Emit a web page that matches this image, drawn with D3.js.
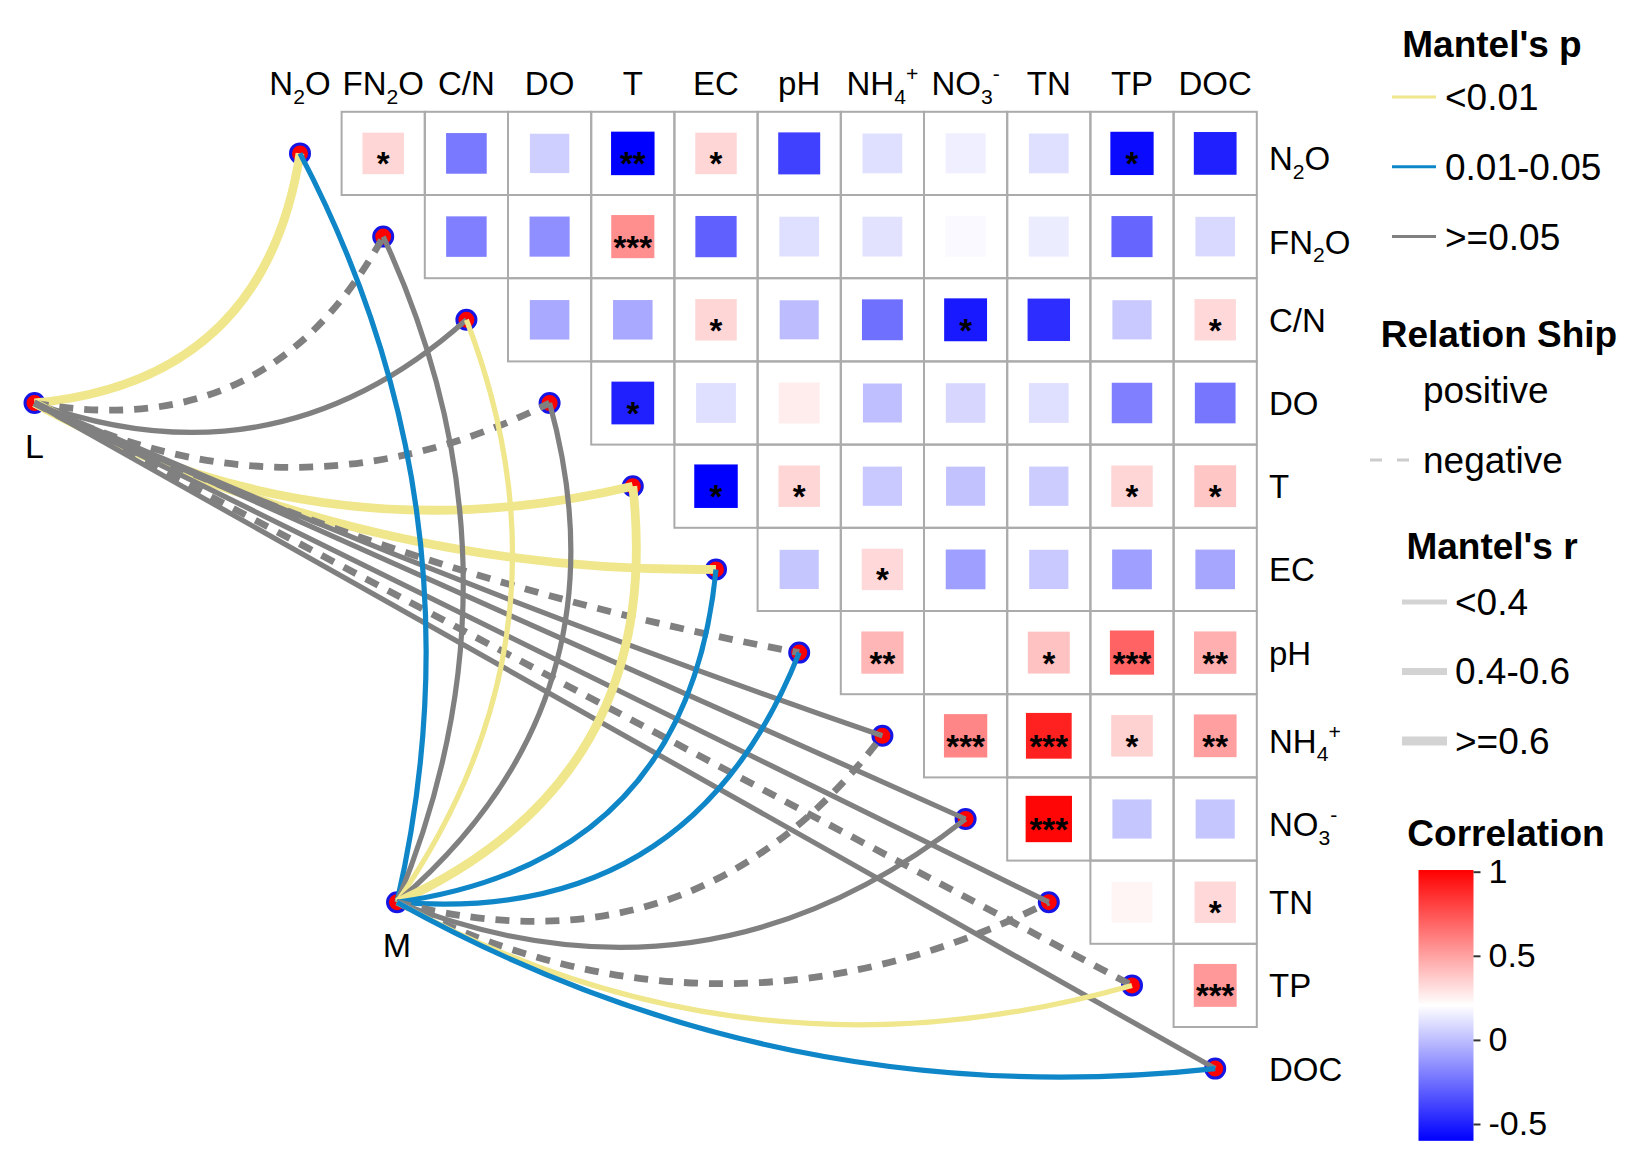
<!DOCTYPE html>
<html>
<head>
<meta charset="utf-8">
<script src="https://cdn.jsdelivr.net/npm/d3@7"></script>
<style>
  html, body { margin: 0; padding: 0; background: #fff; }
  svg { display: block; font-family: "Liberation Sans", Arial, sans-serif; }
</style>
</head>
<body>
<svg id="chart" width="1638" height="1164"></svg>
<script>
// variables of the correlation triangle (also the link targets)
const vars = ["N2O", "FN2O", "C/N", "DO", "T", "EC", "pH", "NH4+", "NO3-", "TN", "TP", "DOC"];

// upper triangle: row i holds the correlations with vars i+1 .. 11
const corrRows = [
  [0.33, -0.22, 0.05, -0.60, 0.33, -0.40, 0.10, 0.15, 0.10, -0.57, -0.50],
  [-0.20, -0.15, 0.55, -0.30, 0.10, 0.11, 0.18, 0.14, -0.28, 0.08],
  [-0.07, -0.07, 0.33, -0.01, -0.25, -0.52, -0.46, 0.03, 0.32],
  [-0.50, 0.10, 0.26, 0.00, 0.07, 0.10, -0.20, -0.23],
  [-0.60, 0.33, 0.03, 0.01, 0.04, 0.33, 0.38],
  [0.02, 0.32, -0.10, 0.03, -0.10, -0.08],
  [0.43, 0.20, 0.39, 0.69, 0.45],
  [0.58, 0.90, 0.34, 0.50],
  [0.98, 0.02, 0.02],
  [0.23, 0.32],
  [0.52]
];
const starRows = [
  ["*", "", "", "**", "*", "", "", "", "", "*", ""],
  ["", "", "***", "", "", "", "", "", "", ""],
  ["", "", "*", "", "", "*", "", "", "*"],
  ["*", "", "", "", "", "", "", ""],
  ["*", "*", "", "", "", "*", "*"],
  ["", "*", "", "", "", ""],
  ["**", "", "*", "***", "**"],
  ["***", "***", "*", "**"],
  ["***", "", ""],
  ["", "*"],
  ["***"]
];

// Mantel tests of the two groups against every variable (negative r = dashed)
const envNames = ["L", "M"];
const mantelR_L = [0.66, -0.45, 0.25, -0.42, 0.68, 0.65, -0.44, 0.22, 0.18, 0.20, -0.41, 0.24];
const mantelP_L = [0.001, 0.32, 0.21, 0.45, 0.002, 0.004, 0.38, 0.27, 0.30, 0.25, 0.40, 0.19];
const mantelR_M = [0.31, 0.22, 0.35, 0.20, 0.71, 0.33, 0.34, -0.43, 0.19, -0.47, 0.36, 0.32];
const mantelP_M = [0.02, 0.15, 0.008, 0.22, 0.001, 0.03, 0.04, 0.35, 0.28, 0.41, 0.006, 0.03];

const pLabels = ["<0.01", "0.01-0.05", ">=0.05"];
const rLabels = ["<0.4", "0.4-0.6", ">=0.6"];
const relLabels = ["positive", "negative"];
const corrTicks = [1, 0.5, 0, -0.5];

const svg = d3.select("#chart");
svg.append("rect").attr("width", 1638).attr("height", 1164).attr("fill", "#fff");

const cell = 83.2;
const x = d3.scaleBand().domain(vars).range([258.4, 258.4 + 12 * cell]);
const y = d3.scaleBand().domain(vars).range([111.8, 111.8 + 12 * cell]);
const cx = (v) => x(v) + cell / 2;
const cy = (v) => y(v) + cell / 2;

const colour = d3.scaleLinear().domain([-0.6, 0.2, 1]).range(["#0000ff", "#ffffff", "#ff0000"]).clamp(true);
const side = d3.scaleLinear().domain([0, 1]).range([39, 46.5]);
const pColour = d3.scaleThreshold().domain([0.01, 0.05]).range(["#f0e68c", "#0e86c8", "#808080"]);
const rWidth = d3.scaleThreshold().domain([0.4, 0.6]).range([5.2, 6.8, 8.8]);
// bend (sagitta / chord) as a function of the link's direction, degrees
const bend = d3.scaleLinear()
  .domain([-100, -75, -50, -25, 0, 10, 20, 23])
  .range([0.085, 0.155, 0.2, 0.18, 0.125, 0.09, 0.02, 0])
  .clamp(true);

// labels with chemical sub/superscripts
function rich(sel, label, size) {
  let off = 0;
  label.match(/[A-Za-z\/]+|\d+|[+-]/g).forEach((p) => {
    const kind = /^\d+$/.test(p) ? "sub" : /^[+-]$/.test(p) ? "sup" : "base";
    const target = kind === "sub" ? size * 0.26 : kind === "sup" ? -size * 0.42 : 0;
    sel.append("tspan")
      .attr("dy", target - off)
      .attr("font-size", kind === "base" ? size : size * 0.64)
      .text(p);
    off = target;
  });
}
const hasSub = (s) => /\d/.test(s);

// triangle cells
const cells = [];
corrRows.forEach((row, i) => row.forEach((r, k) => {
  cells.push({ row: vars[i], col: vars[i + 1 + k], r, star: starRows[i][k] });
}));

const gCells = svg.append("g");
gCells.selectAll("rect.bg").data(cells).join("rect")
  .attr("class", "bg")
  .attr("x", (d) => x(d.col)).attr("y", (d) => y(d.row))
  .attr("width", cell).attr("height", cell)
  .attr("fill", "none").attr("stroke", "#ababab").attr("stroke-width", 2);

gCells.selectAll("rect.sq").data(cells).join("rect")
  .attr("class", "sq")
  .attr("x", (d) => cx(d.col) - side(Math.abs(d.r)) / 2)
  .attr("y", (d) => cy(d.row) - side(Math.abs(d.r)) / 2)
  .attr("width", (d) => side(Math.abs(d.r)))
  .attr("height", (d) => side(Math.abs(d.r)))
  .attr("fill", (d) => colour(d.r));

gCells.selectAll("text").data(cells.filter((d) => d.star)).join("text")
  .attr("x", (d) => cx(d.col)).attr("y", (d) => cy(d.row) + 22)
  .attr("text-anchor", "middle").attr("font-size", 33).attr("font-weight", "bold")
  .attr("fill", "#000")
  .text((d) => d.star);

// axis labels
svg.append("g").selectAll("text").data(vars).join("text")
  .attr("x", (d) => cx(d)).attr("y", 95)
  .attr("text-anchor", "middle").attr("fill", "#000")
  .each(function (d) { rich(d3.select(this), d, 33); });

svg.append("g").selectAll("text").data(vars).join("text")
  .attr("x", 1269).attr("y", (d) => cy(d) + 12 + (hasSub(d) ? 5 : 0))
  .attr("fill", "#000")
  .each(function (d) { rich(d3.select(this), d, 33); });

// group nodes
const envPos = {
  L: [34.5, cy("DO")],
  M: [397, cy("TN")]
};

const links = [];
envNames.forEach((e) => {
  const rs = e === "L" ? mantelR_L : mantelR_M;
  const ps = e === "L" ? mantelP_L : mantelP_M;
  vars.forEach((v, i) => links.push({ env: e, v, r: rs[i], p: ps[i] }));
});

function linkPath(d) {
  const [x0, y0] = envPos[d.env];
  const x1 = cx(d.v), y1 = cy(d.v);
  const dx = x1 - x0, dy = y1 - y0;
  const len = Math.hypot(dx, dy);
  const s = bend(Math.atan2(dy, dx) * 180 / Math.PI) * len;
  const nx = -dy / len, ny = dx / len;
  const p = d3.path();
  p.moveTo(x0, y0);
  p.quadraticCurveTo((x0 + x1) / 2 + nx * 2 * s, (y0 + y1) / 2 + ny * 2 * s, x1, y1);
  return p.toString();
}

const nodes = vars.map((v) => [cx(v), cy(v)]).concat(envNames.map((e) => envPos[e]));
svg.append("g").selectAll("circle").data(nodes).join("circle")
  .attr("cx", (d) => d[0]).attr("cy", (d) => d[1]).attr("r", 9.5)
  .attr("fill", "#ff0000").attr("stroke", "#1515e6").attr("stroke-width", 3);

svg.append("g").selectAll("path").data(links).join("path")
  .attr("d", linkPath)
  .attr("fill", "none")
  .attr("stroke", (d) => pColour(d.p))
  .attr("stroke-width", (d) => rWidth(Math.abs(d.r)))
  .attr("stroke-dasharray", (d) => (d.r < 0 ? "14 11" : null));

svg.append("g").selectAll("text").data(envNames).join("text")
  .attr("x", (d) => envPos[d][0]).attr("y", (d) => envPos[d][1] + 55)
  .attr("text-anchor", "middle").attr("font-size", 34).attr("fill", "#000")
  .text((d) => d);

// legends
const leg = svg.append("g").attr("fill", "#000");
const title = (t, tx, ty) => leg.append("text").attr("x", tx).attr("y", ty)
  .attr("text-anchor", "middle").attr("font-size", 37).attr("font-weight", "bold").text(t);

title("Mantel's p", 1492, 57);
pLabels.forEach((t, k) => {
  const ky = 97 + k * 69.8;
  leg.append("line").attr("x1", 1392).attr("x2", 1436).attr("y1", ky).attr("y2", ky)
    .attr("stroke", pColour([0.001, 0.03, 0.5][k])).attr("stroke-width", 3);
  leg.append("text").attr("x", 1445).attr("y", ky).attr("dy", "0.35em")
    .attr("font-size", 37).text(t);
});

title("Relation Ship", 1499, 347);
relLabels.forEach((t, k) => {
  const ky = 390 + k * 70;
  if (k === 1) {
    leg.append("line").attr("x1", 1370).attr("x2", 1410).attr("y1", ky).attr("y2", ky)
      .attr("stroke", "#cccccc").attr("stroke-width", 3).attr("stroke-dasharray", "12 15");
  }
  leg.append("text").attr("x", 1423).attr("y", ky).attr("dy", "0.35em")
    .attr("font-size", 37).text(t);
});

title("Mantel's r", 1492, 559);
rLabels.forEach((t, k) => {
  const ky = 602 + k * 69.5;
  leg.append("line").attr("x1", 1402).attr("x2", 1447).attr("y1", ky).attr("y2", ky)
    .attr("stroke", "#d3d3d3").attr("stroke-width", rWidth([0.2, 0.5, 0.7][k]));
  leg.append("text").attr("x", 1455).attr("y", ky).attr("dy", "0.35em")
    .attr("font-size", 37).text(t);
});

title("Correlation", 1506, 846);
const corrAxis = d3.scaleLinear().domain([-0.5, 1]).range([1124, 871.7]);
const grad = svg.append("defs").append("linearGradient")
  .attr("id", "corrGrad").attr("x1", 0).attr("y1", 1).attr("x2", 0).attr("y2", 0);
[-0.6, 0.2, 1].forEach((v, k) => grad.append("stop")
  .attr("offset", k / 2).attr("stop-color", colour(v)));
leg.append("rect")
  .attr("x", 1418.5).attr("y", corrAxis(1.01))
  .attr("width", 55).attr("height", corrAxis(-0.6) - corrAxis(1.01))
  .attr("fill", "url(#corrGrad)");
leg.append("g")
  .attr("transform", "translate(1473.5,0)")
  .call(d3.axisRight(corrAxis).tickValues(corrTicks).tickSize(7).tickPadding(8)
    .tickFormat((d) => String(d)))
  .call((g) => g.select(".domain").remove())
  .call((g) => g.selectAll("line").attr("stroke", "#333").attr("stroke-width", 2))
  .call((g) => g.selectAll("text").attr("fill", "#000")
    .attr("font-family", "Liberation Sans, Arial, sans-serif").attr("font-size", 34));
</script>
</body>
</html>
